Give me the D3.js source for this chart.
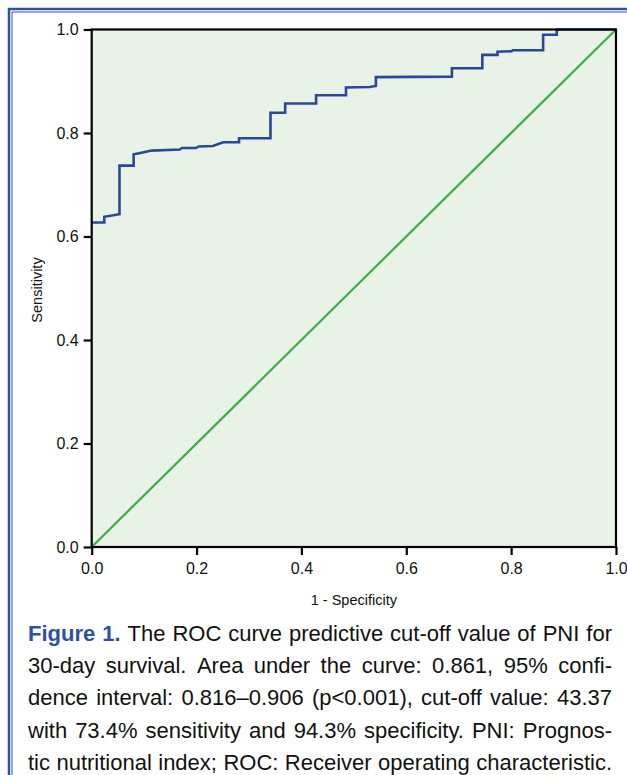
<!DOCTYPE html>
<html>
<head>
<meta charset="utf-8">
<script src="https://cdn.jsdelivr.net/npm/d3@7"></script>
<style>
  body { margin: 0; background: #fff; }
  svg { display: block; font-family: "Liberation Sans", Arial, sans-serif; }
</style>
</head>
<body>
<svg id="chart" width="627" height="775"></svg>
<script>
// ROC curve vertices (1 - specificity, sensitivity)
var fpr = [0, 0.024, 0.024, 0.053, 0.053, 0.080, 0.080, 0.095, 0.114, 0.168, 0.172, 0.199, 0.204, 0.231,
  0.251, 0.281, 0.281, 0.341, 0.341, 0.369, 0.369, 0.428, 0.428, 0.485, 0.485, 0.530, 0.542, 0.542,
  0.687, 0.687, 0.745, 0.745, 0.774, 0.774, 0.801, 0.803, 0.861, 0.861, 0.887, 0.887, 1.0];
var tpr = [0.627, 0.627, 0.638, 0.643, 0.737, 0.737, 0.759, 0.762, 0.766, 0.768, 0.771, 0.771, 0.774, 0.775,
  0.782, 0.782, 0.790, 0.790, 0.839, 0.839, 0.857, 0.857, 0.873, 0.873, 0.888, 0.889, 0.891, 0.908,
  0.909, 0.925, 0.925, 0.951, 0.951, 0.957, 0.958, 0.960, 0.960, 0.990, 0.990, 1.0, 1.0];
var refLine = [0, 1];
var tickValues = [0, 0.2, 0.4, 0.6, 0.8, 1.0];

var xTitle = "1 - Specificity";
var yTitle = "Sensitivity";
var captionLines = [
  "Figure 1. The ROC curve predictive cut-off value of PNI for",
  "30-day survival. Area under the curve: 0.861, 95% confi-",
  "dence interval: 0.816\u20130.906 (p<0.001), cut-off value: 43.37",
  "with 73.4% sensitivity and 94.3% specificity. PNI: Prognos-",
  "tic nutritional index; ROC: Receiver operating characteristic."
];
var boldWords = 2; // "Figure 1."

var svg = d3.select("#chart");
var mLeft = 91.7, mRight = 616, mTop = 29.5, mBottom = 547;

var x = d3.scaleLinear().domain([0, 1]).range([mLeft, mRight]);
var y = d3.scaleLinear().domain([0, 1]).range([mBottom, mTop]);

// page frame (double blue rule on top and left)
svg.append("path").attr("d", "M9,775V9H627").attr("fill", "none")
   .attr("stroke", "#2f4f9f").attr("stroke-width", 2.5);
svg.append("path").attr("d", "M12,775V12H627").attr("fill", "none")
   .attr("stroke", "#2f4f9f").attr("stroke-width", 1);

svg.append("rect")
   .attr("x", mLeft).attr("y", mTop)
   .attr("width", mRight - mLeft).attr("height", mBottom - mTop)
   .attr("fill", "#e8f2e6");

// reference diagonal
svg.append("line")
   .attr("x1", x(refLine[0])).attr("y1", y(refLine[0]))
   .attr("x2", x(refLine[1])).attr("y2", y(refLine[1]))
   .attr("stroke", "#3cae48").attr("stroke-width", 2.2);

var line = d3.line()
   .x(function(d, i) { return x(fpr[i]); })
   .y(function(d, i) { return y(tpr[i]); });

svg.append("path")
   .datum(fpr)
   .attr("d", line)
   .attr("fill", "none")
   .attr("stroke", "#2a4897")
   .attr("stroke-width", 2.6)
   .attr("stroke-linejoin", "miter");

// frame of plot
svg.append("rect")
   .attr("x", mLeft).attr("y", mTop)
   .attr("width", mRight - mLeft).attr("height", mBottom - mTop)
   .attr("fill", "none").attr("stroke", "#000").attr("stroke-width", 2.2);

var xAxis = svg.append("g")
   .attr("transform", "translate(0," + mBottom + ")")
   .call(d3.axisBottom(x).tickValues(tickValues).tickFormat(d3.format(".1f")).tickSize(8).tickPadding(8));
var yAxis = svg.append("g")
   .attr("transform", "translate(" + mLeft + ",0)")
   .call(d3.axisLeft(y).tickValues(tickValues).tickFormat(d3.format(".1f")).tickSize(8).tickPadding(5));

[xAxis, yAxis].forEach(function(g) {
  g.attr("font-size", 16).attr("font-family", "Liberation Sans, Arial, sans-serif");
  g.select(".domain").remove();
  g.selectAll(".tick line").attr("stroke", "#000").attr("stroke-width", 2.2);
  g.selectAll(".tick text").attr("fill", "#111");
});

svg.append("text")
   .attr("x", (mLeft + mRight) / 2).attr("y", 605)
   .attr("text-anchor", "middle")
   .attr("font-size", 14.5).attr("fill", "#111")
   .text(xTitle);

svg.append("text")
   .attr("transform", "translate(42,290) rotate(-90)")
   .attr("text-anchor", "middle")
   .attr("font-size", 14.5).attr("fill", "#111")
   .text(yTitle);

// caption, justified between capLeft and capRight
var capLeft = 28, capRight = 612, capTop = 641, capStep = 32.2, minGap = 5;
captionLines.forEach(function(str, li) {
  var words = str.split(" ");
  var g = svg.append("g");
  var nodes = words.map(function(w, wi) {
    var bold = li === 0 && wi < boldWords;
    return g.append("text")
      .attr("y", capTop + li * capStep)
      .attr("font-size", 22)
      .attr("font-weight", bold ? "bold" : "normal")
      .attr("fill", bold ? "#2e4fa3" : "#111")
      .text(w);
  });
  var widths = nodes.map(function(n) { return n.node().getComputedTextLength(); });
  var total = d3.sum(widths);
  var avail = capRight - capLeft;
  var gap = (avail - total) / (words.length - 1);
  var k = 1;
  if (gap < minGap) {
    gap = minGap;
    k = avail / (total + minGap * (words.length - 1));
  }
  var cx = 0;
  nodes.forEach(function(n, i) {
    n.attr("x", cx);
    cx += widths[i] + gap;
  });
  g.attr("transform", "translate(" + capLeft + ",0) scale(" + k + ",1)");
});
</script>
</body>
</html>
